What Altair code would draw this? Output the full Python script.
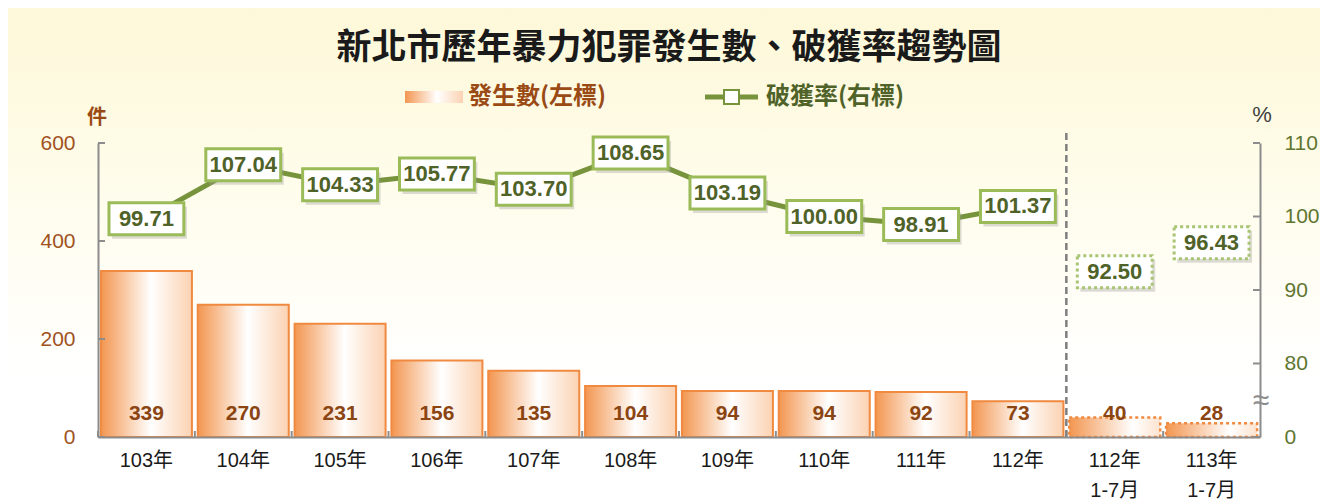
import altair as alt
import pandas as pd

# ---- data ----
categories = ["103年", "104年", "105年", "106年", "107年", "108年", "109年",
              "110年", "111年", "112年", "112年 1-7月", "113年 1-7月"]
counts = [339, 270, 231, 156, 135, 104, 94, 94, 92, 73, 40, 28]
rates = [99.71, 107.04, 104.33, 105.77, 103.70, 108.65, 103.19,
         100.00, 98.91, 101.37, 92.50, 96.43]
partial = [False] * 10 + [True] * 2
left_ticks = [0, 200, 400, 600]
right_ticks = [70, 80, 90, 100, 110]

W, H = 1162, 294
FONT = "Liberation Sans, Noto Sans CJK TC"
CJK = "Noto Sans CJK TC"
BROWN = "#9a4a14"
GREEN_TXT = "#4f6228"
GREEN_LINE = "#77933c"
GREEN_BOX = "#9bbb59"
AXIS_GRAY = "#8c8c8c"

df = pd.DataFrame({"cat": categories, "count": counts, "rate": rates, "partial": partial})
one = pd.DataFrame({"a": [0]})

xscale = alt.Scale(paddingInner=0.06, paddingOuter=0.03)
xaxis = alt.Axis(title=None, labelExpr="split(datum.label, ' ')", labelAngle=0,
                 labelFontSize=20, labelColor="#1a1a1a", labelFont=FONT,
                 labelPadding=13, labelLineHeight=30, ticks=False,
                 domainColor=AXIS_GRAY, domainWidth=2, grid=False, zindex=1)


def X(**kw):
    return alt.X("cat:N", sort=categories, scale=xscale, axis=xaxis, **kw)


lscale = alt.Scale(domain=[0, 600], nice=False)
laxis = alt.Axis(title=None, values=left_ticks, ticks=False, labelPadding=23,
                 labelFontSize=21, labelColor="#a0521e", labelFont=FONT,
                 domainColor=AXIS_GRAY, domainWidth=2, grid=False, zindex=1)
rscale = alt.Scale(domain=[70, 110], nice=False)
raxis = alt.Axis(title=None, orient="right", values=right_ticks, ticks=False,
                 labelExpr="datum.value == 70 ? '0' : datum.label",
                 labelPadding=24, labelFontSize=21, labelColor="#5f7530",
                 labelFont=FONT, domainColor=AXIS_GRAY, domainWidth=2, grid=False, zindex=1)

bar_grad = alt.LinearGradient(gradient="linear", x1=0, y1=0, x2=1, y2=0, stops=[
    alt.GradientStop(color="#f39650", offset=0),
    alt.GradientStop(color="#ffffff", offset=0.55),
    alt.GradientStop(color="#fbd2b2", offset=1)])
part_grad = alt.LinearGradient(gradient="linear", x1=0, y1=0, x2=1, y2=0, stops=[
    alt.GradientStop(color="#f39650", offset=0),
    alt.GradientStop(color="#ffffff", offset=0.7),
    alt.GradientStop(color="#fde3cf", offset=1)])
bg_grad = alt.LinearGradient(gradient="linear", x1=0, y1=0, x2=0, y2=1, stops=[
    alt.GradientStop(color="#fdf8d8", offset=0),
    alt.GradientStop(color="#fffdf0", offset=0.45),
    alt.GradientStop(color="#ffffff", offset=0.75)])

base = alt.Chart(df)

background = alt.Chart(one).mark_rect(fill=bg_grad).encode(
    x=alt.value(-90), x2=alt.value(W + 60), y=alt.value(-135), y2=alt.value(H + 67))

bars = base.transform_filter("!datum.partial").mark_bar(
    fill=bar_grad, stroke="#f08a40", strokeWidth=2).encode(
    x=X(), y=alt.Y("count:Q", scale=lscale, axis=laxis))
bars_p = base.transform_filter("datum.partial").mark_bar(
    fill=part_grad, stroke="#f08a40", strokeWidth=2.5, strokeDash=[3, 3]).encode(
    x=X(), y=alt.Y("count:Q", scale=lscale, axis=laxis))
bar_text = base.transform_calculate(base="0").mark_text(
    dy=-23, fontSize=21, fontWeight="bold", color="#8b4513", font=FONT).encode(
    x=X(), y=alt.Y("base:Q", scale=lscale, axis=laxis), text="count:Q")

lt = pd.DataFrame({"tv": left_ticks})
left_tick_rules = alt.Chart(lt).mark_rule(color=AXIS_GRAY, strokeWidth=2).encode(
    y=alt.Y("tv:Q", scale=lscale, axis=laxis), x=alt.value(0), x2=alt.value(7))

x_ticks = base.mark_rule(color=AXIS_GRAY, strokeWidth=2, xOffset=-2.9).encode(
    x=X(bandPosition=0), y=alt.value(H - 6), y2=alt.value(H))

divider = base.transform_filter("datum.cat == '112年 1-7月'").mark_rule(
    color="#7f7f7f", strokeWidth=2.5, strokeDash=[7, 4], xOffset=-2.9).encode(
    x=X(bandPosition=0), y=alt.value(-10), y2=alt.value(H))

left_layer = alt.layer(background, bars, bars_p, bar_text, left_tick_rules, x_ticks, divider)

# ---- right axis layer ----
BOX = "M-1.17,-0.5H1.17V0.5H-1.17Z"
line = base.transform_filter("!datum.partial").mark_line(
    color=GREEN_LINE, strokeWidth=5).encode(
    x=X(), y=alt.Y("rate:Q", scale=rscale, axis=raxis))
shadow = base.mark_point(shape=BOX, size=4096, filled=True, fill="#9a9a9a",
                         opacity=0.35, xOffset=3, yOffset=4, strokeWidth=0).encode(
    x=X(), y=alt.Y("rate:Q", scale=rscale, axis=raxis))
boxes = base.transform_filter("!datum.partial").mark_point(
    shape=BOX, size=4096, filled=False, fill="#ffffff", fillOpacity=1,
    stroke=GREEN_BOX, strokeWidth=3, opacity=1).encode(
    x=X(), y=alt.Y("rate:Q", scale=rscale, axis=raxis))
boxes_p = base.transform_filter("datum.partial").mark_point(
    shape=BOX, size=4096, filled=False, fill="#ffffff", fillOpacity=1,
    stroke="#a9c472", strokeWidth=3, strokeDash=[3, 3], opacity=1).encode(
    x=X(), y=alt.Y("rate:Q", scale=rscale, axis=raxis))
rate_text = base.mark_text(fontSize=22, fontWeight="bold", color=GREEN_TXT, font=FONT).encode(
    x=X(), y=alt.Y("rate:Q", scale=rscale, axis=raxis),
    text=alt.Text("rate:Q", format=".2f"))

rt = pd.DataFrame({"tv": right_ticks})
right_tick_rules = alt.Chart(rt).mark_rule(color=AXIS_GRAY, strokeWidth=2).encode(
    y=alt.Y("tv:Q", scale=rscale, axis=raxis), x=alt.value(W - 7), x2=alt.value(W))

brk_bg = alt.Chart(one).mark_rect(fill="#ffffff").encode(
    x=alt.value(W - 6), x2=alt.value(W + 6), y=alt.value(H - 42), y2=alt.value(H - 30))
brk = alt.Chart(one).mark_text(text="≈", fontSize=30, color="#8c8c8c", font=FONT).encode(
    x=alt.value(W + 1), y=alt.value(H - 36))

right_layer = alt.layer(line, shadow, boxes, boxes_p, rate_text, right_tick_rules)

# ---- title / legend / unit labels ----
title = alt.Chart(one).mark_text(text="新北市歷年暴力犯罪發生數、破獲率趨勢圖", fontSize=35,
                                 fontWeight="bold", color="#1a1a1a", font=CJK).encode(
    x=alt.value(571), y=alt.value(-95))
leg_bar = alt.Chart(one).mark_rect(fill=bar_grad).encode(
    x=alt.value(307), x2=alt.value(365), y=alt.value(-52), y2=alt.value(-40))
leg_bar_t = alt.Chart(one).mark_text(text="發生數(左標)", fontSize=24, fontWeight="bold",
                                     color=BROWN, font=CJK,
                                     align="left", baseline="middle").encode(
    x=alt.value(370), y=alt.value(-46))
leg_line = alt.Chart(one).mark_rule(color=GREEN_LINE, strokeWidth=5).encode(
    x=alt.value(607), x2=alt.value(660), y=alt.value(-46))
leg_sq = alt.Chart(one).mark_rect(fill="#ffffff", stroke=GREEN_LINE, strokeWidth=2).encode(
    x=alt.value(626), x2=alt.value(641), y=alt.value(-53), y2=alt.value(-39))
leg_line_t = alt.Chart(one).mark_text(text="破獲率(右標)", fontSize=24, fontWeight="bold",
                                      color=GREEN_TXT, font=CJK,
                                      align="left", baseline="middle").encode(
    x=alt.value(668), y=alt.value(-46))
unit_l = alt.Chart(one).mark_text(text="件", fontSize=20, fontWeight="bold", color=BROWN, font=CJK).encode(
    x=alt.value(-1), y=alt.value(-25))
unit_r = alt.Chart(one).mark_text(text="%", fontSize=22, color="#404040", font=FONT).encode(
    x=alt.value(1164), y=alt.value(-28))
deco = alt.layer(title, leg_bar, leg_bar_t, leg_line, leg_sq, leg_line_t, unit_l, unit_r, brk_bg, brk)

chart = alt.layer(left_layer, right_layer, deco).resolve_scale(y="independent").properties(
    width=W, height=H,
    padding={"left": 90, "top": 135, "right": 60, "bottom": 67},
    autosize=alt.AutoSizeParams(type="none"),
    background="#ffffff",
).configure_view(stroke=None)

chart.save("out.html", embed_options={"renderer": "svg", "actions": False})
